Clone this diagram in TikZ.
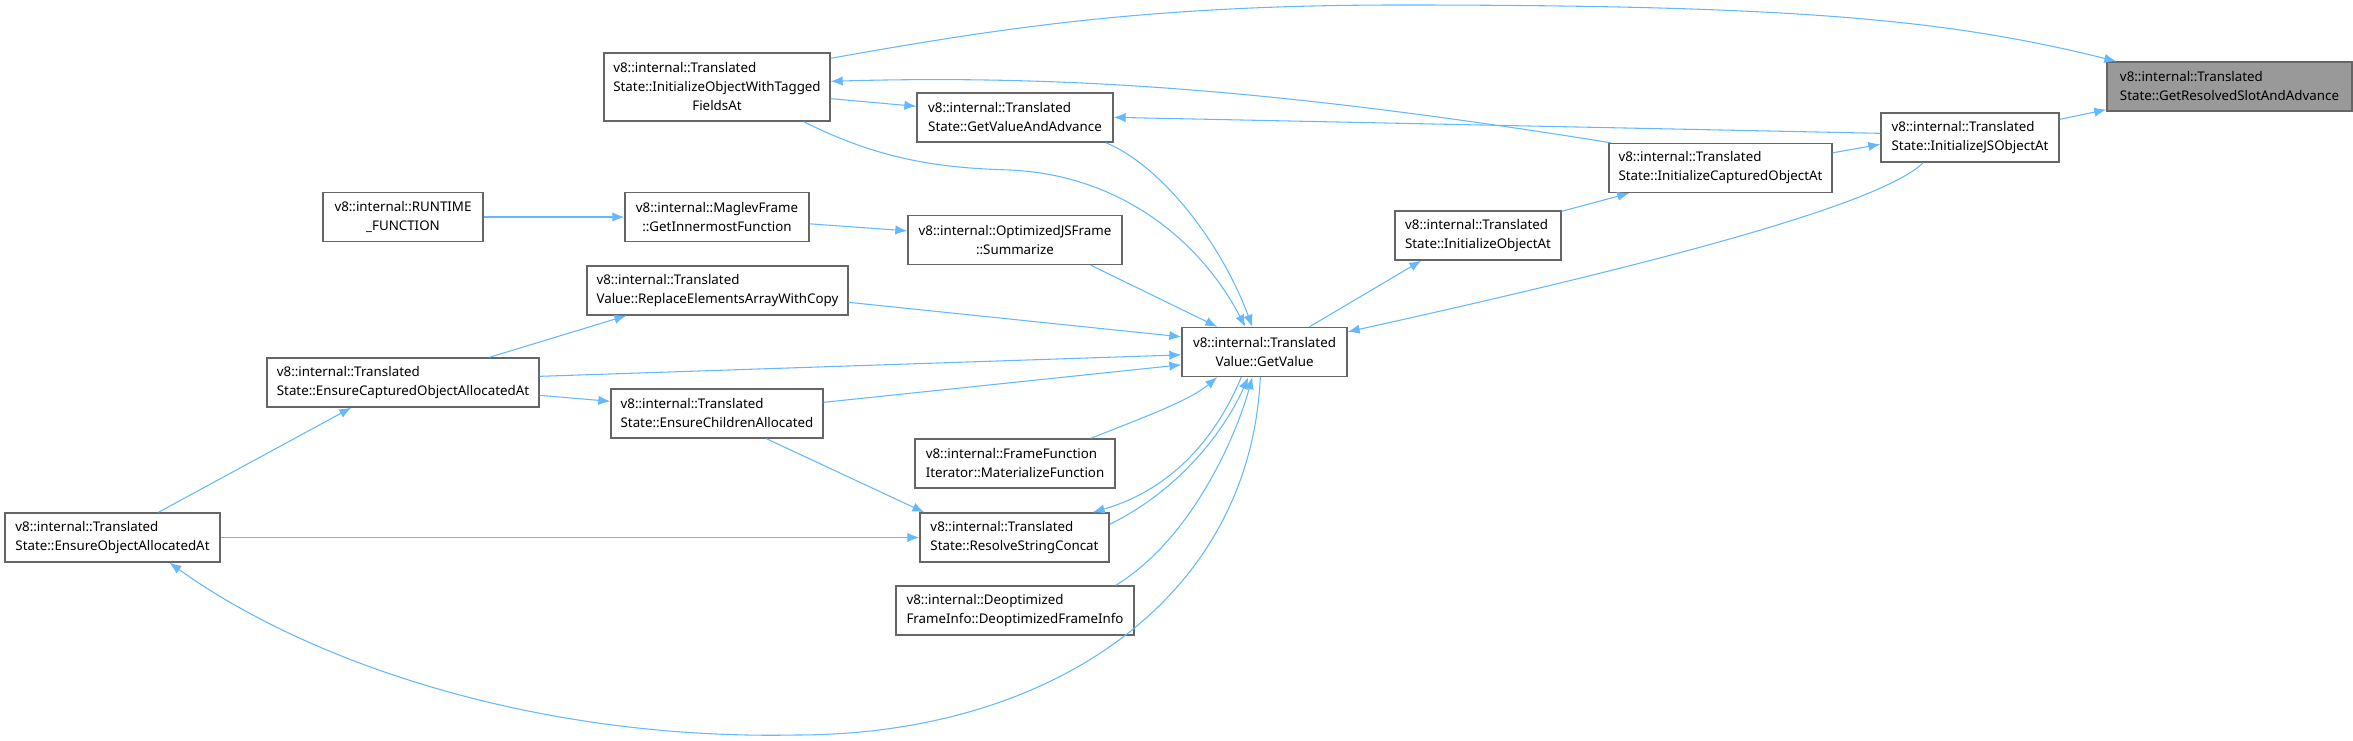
\documentclass[tikz,border=0pt]{standalone}
\usepackage{fontspec}
\setmainfont{Noto Sans}
\usetikzlibrary{arrows.meta,calc}
\definecolor{edgeblue}{HTML}{63B8FF}
\definecolor{boxgray}{HTML}{666666}
\definecolor{hlgray}{HTML}{999999}

\begin{document}
\begin{tikzpicture}[
  x=0.75pt,y=-0.75pt,
  font=\fontsize{10}{14.25}\selectfont,
  >={Latex[length=9pt,width=7pt]},
  fn/.style={draw=boxgray,line width=1pt,fill=white,align=left,inner sep=2pt,
             minimum height=36.75pt,minimum width=#1*0.75pt},
  fnc/.style={fn=#1,align=center},
  cur/.style={fn=#1,fill=hlgray},
  call/.style={->,draw=edgeblue,line width=0.8pt},
]
\useasboundingbox (0,0) rectangle (2353,741);
% right-hand chain
\node[cur=245]  (grsa)  at (2229.5,86.5) {v8::internal::Translated\\State::GetResolvedSlotAndAdvance};
\node[fn=178]   (ijsoa) at (1970,137.5)  {v8::internal::Translated\\State::InitializeJSObjectAt};
\node[fn=223]   (icoa)  at (1720.5,168)  {v8::internal::Translated\\State::InitializeCapturedObjectAt};
\node[fn=166]   (ioa)   at (1478,235.5)  {v8::internal::Translated\\State::InitializeObjectAt};
\node[fnc=165]  (gv)    at (1264.5,352)  {v8::internal::Translated\\Value::GetValue};
% middle column
\node[fn=226,minimum height=51pt] (iowtf) at (717,87)
  {v8::internal::Translated\\State::InitializeObjectWithTagged\\\hfill FieldsAt\hfill\mbox{}};
\node[fn=196]   (gvaa)  at (1015,117.5)  {v8::internal::Translated\\State::GetValueAndAdvance};
\node[fnc=160]  (rtf)   at (403,217)     {v8::internal::RUNTIME\\\_FUNCTION};
\node[fnc=184]  (mgf)   at (717,217)     {v8::internal::MaglevFrame\\::GetInnermostFunction};
\node[fnc=214]  (ojs)   at (1015,240)    {v8::internal::OptimizedJSFrame\\::Summarize};
\node[fn=261]   (reaw)  at (717.5,290.5) {v8::internal::Translated\\Value::ReplaceElementsArrayWithCopy};
\node[fn=272]   (ecoa)  at (403,382.5)   {v8::internal::Translated\\State::EnsureCapturedObjectAllocatedAt};
\node[fn=212]   (eca)   at (717,413.5)   {v8::internal::Translated\\State::EnsureChildrenAllocated};
\node[fn=200]   (ffi)   at (1015,463.5)  {v8::internal::FrameFunction\\Iterator::MaterializeFunction};
\node[fn=189]   (rsc)   at (1014.5,537.5){v8::internal::Translated\\State::ResolveStringConcat};
\node[fn=238]   (dfi)   at (1015,610.5)  {v8::internal::Deoptimized\\FrameInfo::DeoptimizedFrameInfo};
\node[fn=215]   (eoaa)  at (112.5,537.5) {v8::internal::Translated\\State::EnsureObjectAllocatedAt};
\coordinate (topbend) at (1400,5);
\coordinate (lowbend) at (796,735);
% ---- calls ----
\draw[call] ($(iowtf.north east)+(0,6)$) .. controls (1000,28) and (1150,5) .. (topbend)
            .. controls (1800,5) and (1950,20) .. ($(grsa.north west)+(10,0)$);
\draw[call] ($(ijsoa.north east)+(0,7)$) -- ($(grsa.south west)+(0,-2)$);
\draw[call] ($(iowtf.south east)+(0,-23)$) -- ($(gvaa.north west)+(0,14)$);
\draw[call] ($(icoa.north west)+(3,0)$) .. controls (1300,93) and (1080,74) .. ($(iowtf.north east)+(0,29)$);
\draw[call] ($(ijsoa.north west)+(0,21)$) -- ($(gvaa.north east)+(0,25)$);
\draw[call] ($(gvaa.south east)+(-8,0)$) .. controls (1160,165) and (1220,240) .. ($(gv.north west)+(71,0)$);
\draw[call] ($(iowtf.south east)+(-27,0)$) .. controls (880,160) and (940,168) .. (1010,170)
            .. controls (1120,175) and (1200,240) .. ($(gv.north west)+(64,0)$);
\draw[call] ($(ojs.south east)+(-32,0)$) -- ($(gv.north west)+(36,0)$);
\draw[call] (rtf) -- (mgf);
\draw[call] ($(mgf.north east)+(0,32)$) -- ($(ojs.north west)+(0,16)$);
\draw[call] ($(reaw.north east)+(0,37)$) -- ($(gv.north west)+(0,10)$);
\draw[call] ($(ecoa.north west)+(223,0)$) -- ($(reaw.south west)+(40,0)$);
\draw[call] ($(ecoa.north east)+(0,19)$) -- ($(gv.north west)+(0,28)$);
\draw[call] ($(ecoa.north east)+(0,38)$) -- ($(eca.north west)+(0,13)$);
\draw[call] ($(eca.north east)+(0,14)$) -- ($(gv.north west)+(0,38)$);
\draw[call] ($(eca.south west)+(156,0)$) -- ($(rsc.north west)+(5,0)$);
\draw[call] ($(eoaa.north west)+(154,0)$) -- ($(ecoa.south west)+(85,0)$);
\draw[call] (eoaa) -- (rsc);
\draw[call] ($(ffi.north east)+(-25,0)$) .. controls (1150,415) and (1190,400) .. ($(gv.south west)+(36,0)$);
\draw[call] ($(gv.south west)+(60,0)$) .. controls (1215,440) and (1170,490) .. ($(rsc.north east)+(-17,0)$);
\draw[call] ($(rsc.north east)+(0,12)$) .. controls (1180,490) and (1225,430) .. ($(gv.south west)+(67,0)$);
\draw[call] ($(dfi.north east)+(-19,0)$) .. controls (1190,540) and (1235,440) .. ($(gv.south west)+(71,0)$);
\draw[call] ($(gv.south west)+(79,0)$) .. controls (1250,600) and (1050,735) .. (lowbend)
            .. controls (550,740) and (320,670) .. ($(eoaa.south west)+(165,0)$);
\draw[call] ($(gv.north west)+(128,0)$) -- ($(ioa.south west)+(27,0)$);
\draw[call] ($(ioa.north east)+(0,1)$) -- ($(icoa.south west)+(21,0)$);
\draw[call] ($(icoa.north east)+(0,10)$) -- ($(ijsoa.north west)+(0,32)$);
\draw[call] ($(ijsoa.south west)+(43,0)$) .. controls (1880,205) and (1650,265) .. ($(gv.north east)+(0,5)$);
\end{tikzpicture}
\end{document}
